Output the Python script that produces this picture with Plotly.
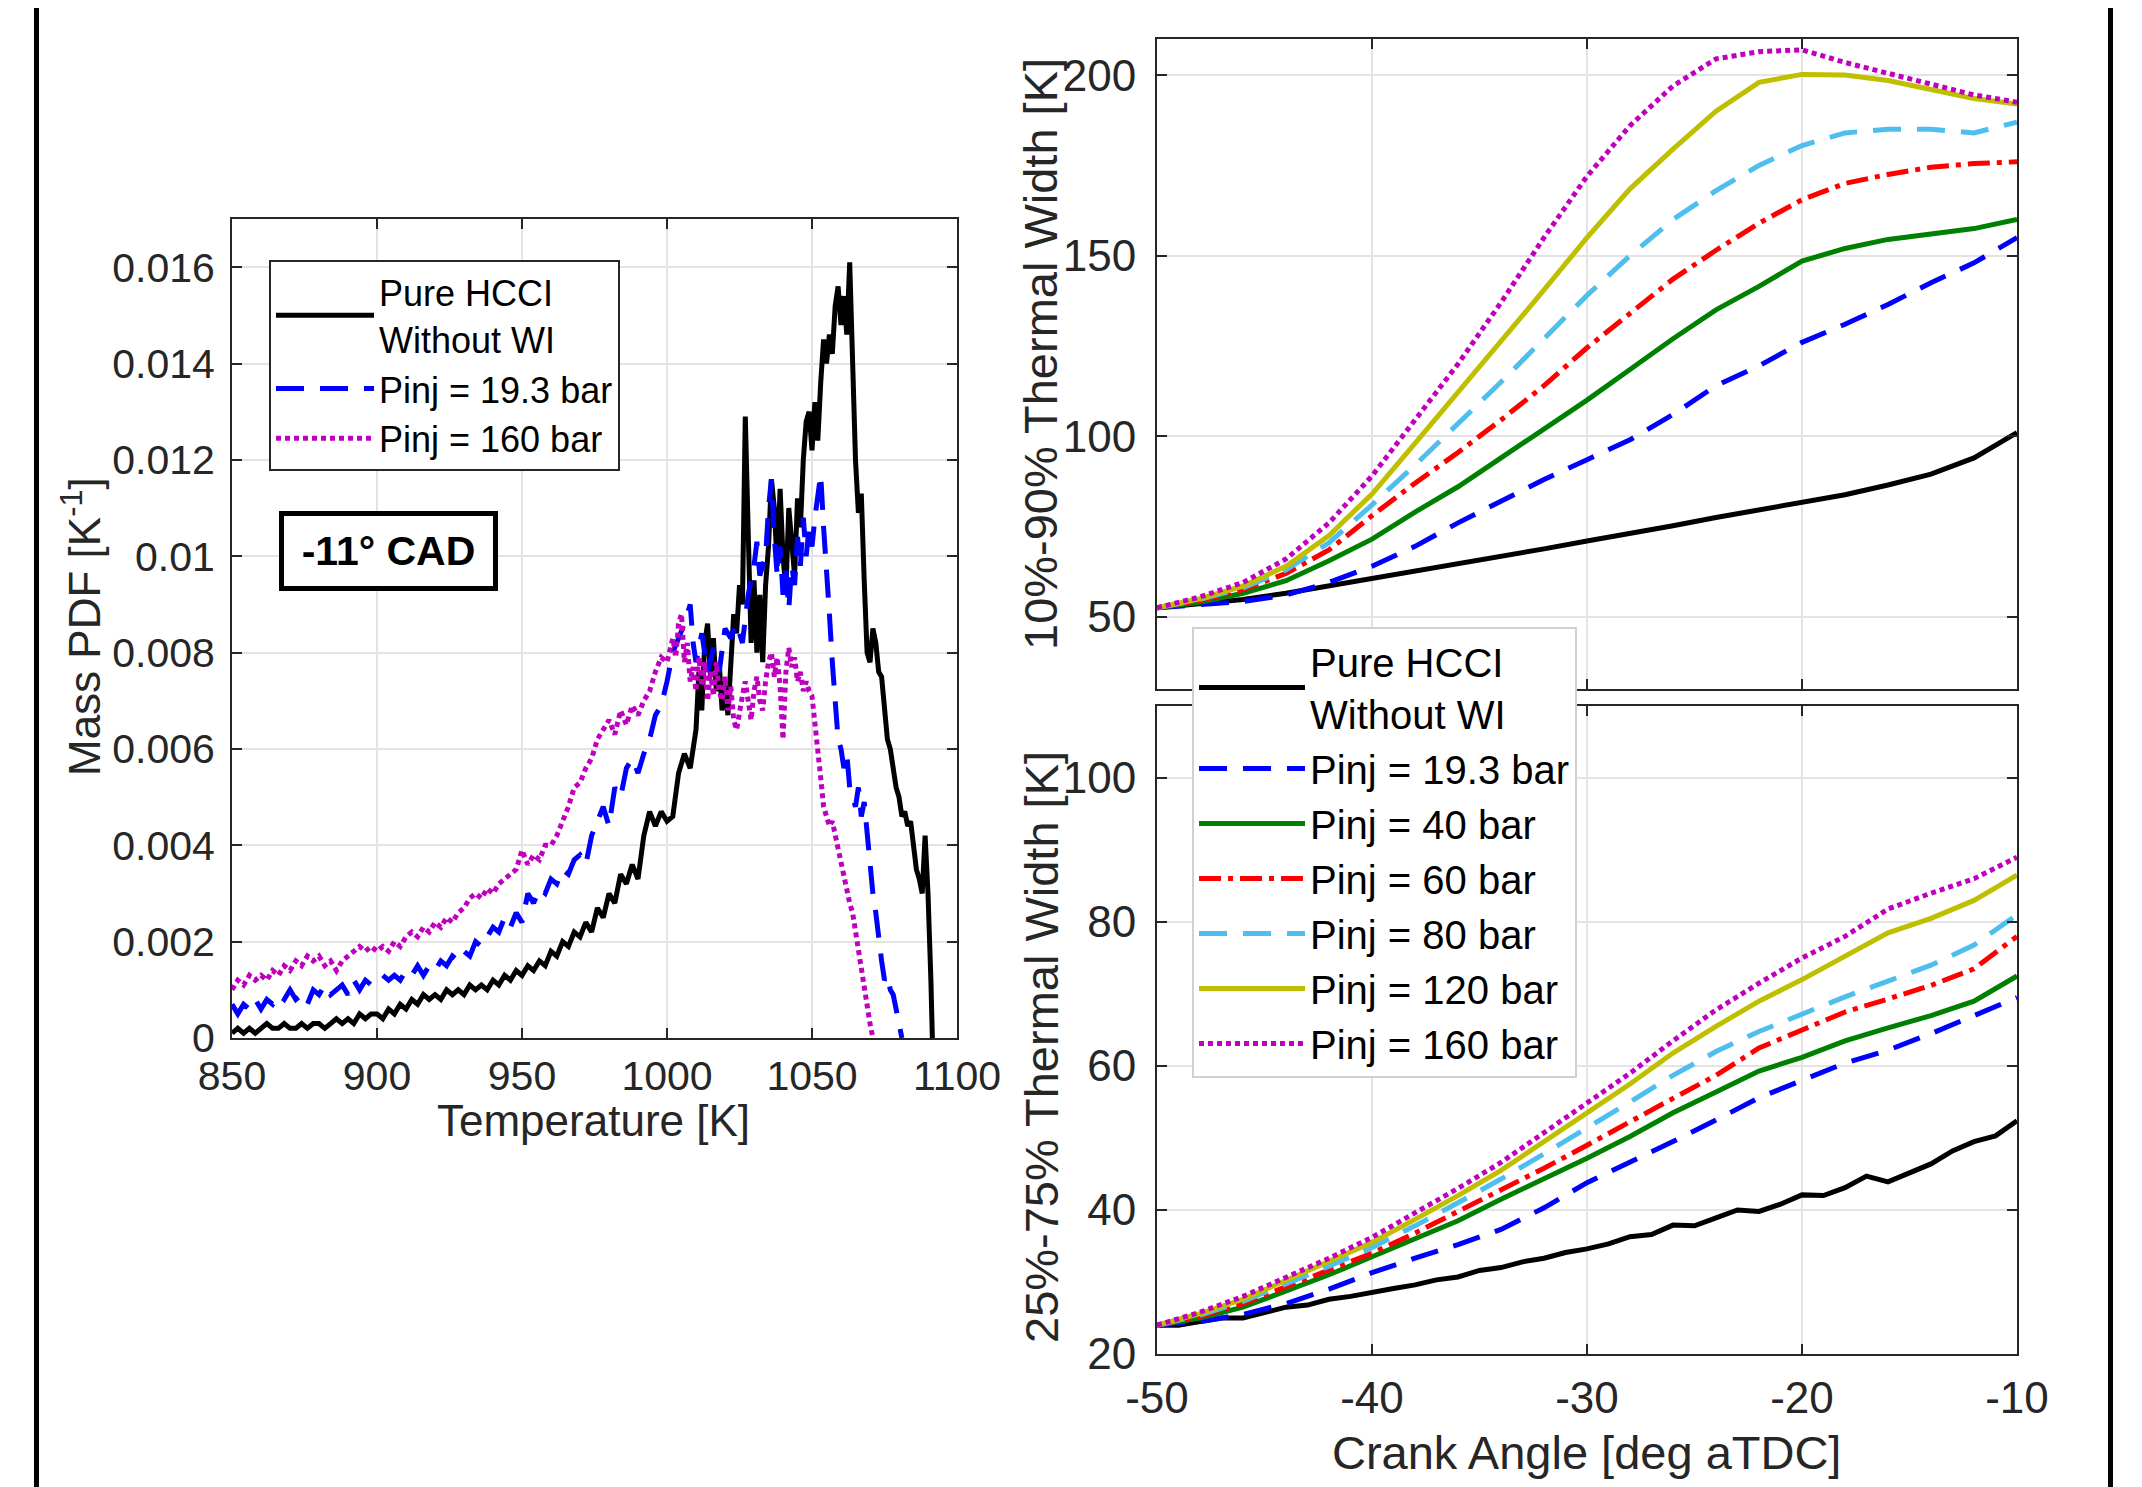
import plotly.graph_objects as go

# ---------------- Left panel: Mass PDF at -11 CAD ----------------
temp_black = [850,852,854,856,858,860,862,864,866,868,870,872,874,876,878,880,882,884,886,888,890,892,894,896,898,
              900,902,904,906,908,910,912,914,916,918,920,922,924,926,928,930,932,934,936,938,940,942,944,946,948,
              950,952,954,956,958,960,962,964,966,968,970,972,974,976,978,980,982,984,986,988,990,992,994,996,998,
              1000,1002,1004,1006,1008,1010,1011,1012,1013,1014,1015,1016,1017,1018,1019,1020,1021,1022,1023,1024,
              1025,1026,1027,1028,1029,1030,1031,1032,1033,1034,1035,1036,1037,1038,1039,1040,1041,1042,1043,1044,
              1045,1046,1047,1048,1049,1050,1051,1052,1053,1054,1055,1056,1057,1058,1059,1060,1061,1062,1063,1064,
              1065,1066,1067,1068,1069,1070,1071,1072,1073,1074,1075,1076,1077,1078,1079,1080,1081,1082,1083,1084,
              1085,1086,1087,1088,1089,1090,1091,1091.5]
pdf_black_e3 = [0.1,0.2,0.1,0.2,0.1,0.2,0.3,0.2,0.2,0.3,0.2,0.2,0.3,0.2,0.3,0.3,0.2,0.3,0.4,0.3,0.4,0.3,0.5,0.4,0.5,
                0.5,0.4,0.6,0.5,0.7,0.6,0.8,0.7,0.9,0.8,0.9,0.8,1.0,0.9,1.0,0.9,1.1,1.0,1.1,1.0,1.2,1.1,1.3,1.2,1.4,
                1.3,1.5,1.4,1.6,1.5,1.8,1.7,2.0,1.9,2.2,2.1,2.4,2.2,2.7,2.5,3.0,2.8,3.4,3.2,3.6,3.3,4.2,4.7,4.4,4.7,
                4.5,4.6,5.5,5.9,5.6,6.4,7.6,6.8,8.2,8.6,7.5,8.3,7.2,7.8,6.8,7.4,6.7,8.0,8.8,8.4,
                9.4,9.0,12.9,10.5,8.2,9.5,8.0,9.2,7.8,9.4,10.2,11.6,11.0,9.8,11.4,10.0,9.3,11.0,10.2,9.6,
                11.2,10.6,12.0,12.8,13.0,12.2,13.2,12.4,13.6,14.5,14.0,14.6,14.2,15.2,15.6,14.8,15.4,14.6,16.1,14.0,
                12.0,10.9,11.3,9.5,8.0,7.8,8.5,8.2,7.6,7.5,6.8,6.2,6.0,5.5,5.2,5.0,4.6,4.7,4.4,4.5,
                4.0,3.5,3.3,3.0,4.2,3.0,1.2,0.0]

temp_blue = [850,852,854,856,858,860,862,864,866,868,870,872,874,876,878,880,882,884,886,888,890,892,894,896,898,
             900,902,904,906,908,910,912,914,916,918,920,922,924,926,928,930,932,934,936,938,940,942,944,946,948,
             950,952,954,956,958,960,962,964,966,968,970,972,974,976,978,980,982,984,986,988,990,992,994,996,998,
             1000,1002,1004,1006,1008,1009,1010,1012,1014,1016,1018,1020,1022,1024,1026,1028,1030,1031,1032,1034,
             1035,1036,1037,1038,1039,1040,1041,1042,1043,1044,1045,1046,1047,1048,1049,1050,1051,1052,1053,1054,
             1055,1056,1057,1058,1059,1060,1061,1062,1063,1064,1065,1066,1067,1068,1069,1070,1071,1072,1073,1074,
             1075,1076,1077,1078,1079,1080,1081]
pdf_blue_e3 = [0.7,0.5,0.7,0.6,0.8,0.6,0.8,0.7,0.9,0.8,1.0,0.8,0.9,0.7,1.0,0.9,1.1,0.9,1.0,1.1,0.9,1.2,1.0,1.2,1.1,
               1.2,1.3,1.2,1.3,1.2,1.4,1.3,1.5,1.3,1.5,1.4,1.6,1.5,1.7,1.6,1.8,1.7,2.0,1.9,2.1,2.3,2.2,2.5,2.3,2.6,
               2.4,3.0,2.8,3.1,3.0,3.3,3.2,3.5,3.4,3.7,3.8,3.6,4.2,4.5,4.8,4.4,5.2,5.0,5.6,5.8,5.5,5.9,6.2,6.7,6.9,
               7.4,8.0,8.3,8.6,9.0,8.2,7.8,8.4,7.6,8.1,7.6,8.5,8.3,8.6,8.2,9.2,9.8,10.3,9.6,10.0,
               11.0,11.6,10.4,9.6,10.2,9.2,9.7,8.9,9.8,9.4,10.4,9.8,10.8,10.0,10.6,10.2,10.8,11.2,11.7,10.6,
               9.8,8.8,7.8,7.0,6.2,6.0,5.6,5.9,5.2,5.0,4.8,5.2,4.6,4.9,4.2,3.6,3.0,2.6,2.0,1.6,
               1.2,1.3,1.0,0.9,0.6,0.3,0.0]

temp_mag = [850,852,854,856,858,860,862,864,866,868,870,872,874,876,878,880,882,884,886,888,890,892,894,896,898,
            900,902,904,906,908,910,912,914,916,918,920,922,924,926,928,930,932,934,936,938,940,942,944,946,948,
            950,952,954,956,958,960,962,964,966,968,970,972,974,976,978,980,982,984,986,988,990,992,994,996,998,
            1000,1002,1003,1004,1005,1006,1007,1008,1009,1010,1011,1012,1013,1014,1015,1016,1017,1018,1019,1020,
            1021,1022,1023,1024,1025,1026,1027,1028,1029,1030,1031,1032,1033,1034,1035,1036,1037,1038,1039,1040,
            1041,1042,1043,1044,1045,1046,1047,1048,1049,1050,1051,1052,1053,1054,1055,1056,1057,1058,1059,1060,
            1061,1062,1063,1064,1065,1066,1067,1068,1069,1070,1071]
pdf_mag_e3 = [1.0,1.2,1.1,1.3,1.2,1.3,1.2,1.4,1.3,1.5,1.4,1.6,1.5,1.7,1.6,1.7,1.5,1.6,1.4,1.6,1.7,1.8,1.9,1.8,1.9,
              1.8,1.9,1.8,2.0,1.9,2.1,2.2,2.1,2.3,2.2,2.4,2.3,2.5,2.4,2.6,2.7,2.9,3.0,2.9,3.1,3.0,3.2,3.3,3.4,3.5,
              3.9,3.6,3.8,3.7,4.0,4.0,4.2,4.5,4.8,5.2,5.3,5.6,5.8,6.2,6.4,6.6,6.3,6.8,6.5,6.9,6.7,7.0,7.2,7.6,7.9,
              7.8,8.3,7.9,8.6,8.8,7.8,8.2,7.4,7.7,7.2,7.9,7.3,7.8,7.0,7.6,7.1,7.8,7.2,7.0,7.5,
              6.8,7.3,6.6,6.4,6.8,7.1,7.4,7.0,6.6,7.2,7.5,7.0,6.8,7.4,7.8,8.0,7.5,7.9,7.3,6.2,
              7.6,8.1,7.7,7.9,7.4,7.6,7.2,7.4,7.2,7.1,6.6,6.0,5.4,4.8,4.6,4.4,4.5,4.2,4.0,3.6,
              3.3,3.0,2.8,2.6,2.2,1.8,1.4,1.0,0.6,0.3,0.0]

left_xticks = [850, 900, 950, 1000, 1050, 1100]
left_yticks = [0, 0.002, 0.004, 0.006, 0.008, 0.01, 0.012, 0.014, 0.016]
left_yticklabels = ["0", "0.002", "0.004", "0.006", "0.008", "0.01", "0.012", "0.014", "0.016"]

# ---------------- Right panels: thermal widths vs crank angle ----------------
crank = [-50, -48, -46, -44, -42, -40, -38, -36, -34, -32, -30, -28, -26, -24, -22, -20, -18, -16, -14, -12, -10]

w1090_hcci = [52.5,53.5,54.8,56.5,58.5,60.5,62.5,64.5,66.5,68.8,71,73,75.2,77.5,79.7,81.8,83.8,86.5,89.5,94,101]
w1090_p19  = [52.5,53.2,54.2,56,59.5,64,69.5,76,82,88,93.5,99,106,114,119.5,126,131,136.5,142.5,148,155]
w1090_p40  = [52.5,54,56.5,60,65.5,71.5,79,86,94,102,110,118.5,127,135,141.5,148.5,152,154.5,156,157.5,160]
w1090_p60  = [52.5,54.5,57.5,62,68.5,78,87,95.5,104.5,114,124.5,134,143.5,151.5,159,165.5,170,172.5,174.5,175.5,176]
w1090_p80  = [52.5,54.8,58,63,70.5,81,92,103.5,115,127,139,150,160,168,175,180.5,184,185,185,184,187]
w1090_p120 = [52.5,55,58.5,64,72.5,84,98,112,126,140.5,155,168.5,179.5,190,198,200.2,200,198.5,196,193.5,192]
w1090_p160 = [52.5,55.5,59.5,66,76,89,104.5,120,137,155,172,186,197,204.5,206.5,207,203.5,200.5,197.5,194.5,192.5]

crank_fine = [-50,-49,-48,-47,-46,-45,-44,-43,-42,-41,-40,-39,-38,-37,-36,-35,-34,-33,-32,-31,-30,
              -29,-28,-27,-26,-25,-24,-23,-22,-21,-20,-19,-18,-17,-16,-15,-14,-13,-12,-11,-10]
w2575_hcci = [24,24,24.5,25,25,25.8,26.5,26.8,27.6,28,28.6,29.1,29.6,30.3,30.7,31.6,32,32.8,33.3,34.1,34.6,
              35.3,36.3,36.6,37.9,37.8,38.9,40,39.8,40.8,42.1,42,43.1,44.7,43.9,45.2,46.4,48.2,49.5,50.3,52.4]
w2575_p19  = [24,24.5,25.5,27,29,31.3,33.3,35.2,37.3,40.3,43.8,46.6,49.5,52.5,55.6,58,60.4,62.2,64.5,67,69.5]
w2575_p40  = [24,25,26.5,28.7,31,33.5,36,38.5,41.5,44.3,47.2,50.2,53.5,56.4,59.3,61.2,63.5,65.3,67,69,72.5]
w2575_p60  = [24,25.2,27,29.3,31.6,34,36.8,39.8,42.8,45.8,49,52.3,55.5,58.7,62.5,65,67.5,69.3,71.2,73.5,78]
w2575_p80  = [24,25.4,27.3,29.7,32.2,34.8,37.8,41,44.3,47.8,51.3,55,58.7,62,64.8,67.2,69.6,71.8,74,76.8,81]
w2575_p120 = [24,25.6,27.6,30.2,32.8,35.5,38.7,42,45.5,49.4,53.5,57.5,61.8,65.5,69,72,75.2,78.5,80.5,83,86.5]
w2575_p160 = [24,25.8,28,30.6,33.3,36.2,39.6,43,46.6,50.8,55,59,63.5,67.8,71.5,75,78,81.8,84,86,89]

right_xticks = [-50, -40, -30, -20, -10]
right_xticklabels = ["-50", "-40", "-30", "-20", "-10"]
top_yticks = [50, 100, 150, 200]
bot_yticks = [20, 40, 60, 80, 100]

legend_names = ["Pure HCCI<br>Without WI", "Pinj = 19.3 bar", "Pinj = 40 bar", "Pinj = 60 bar",
                "Pinj = 80 bar", "Pinj = 120 bar", "Pinj = 160 bar"]

# ---------------- styles ----------------
FONT = "Liberation Sans, Arial, Helvetica, sans-serif"
AX = "#262626"
GRID = "#e3e3e3"
LW = 5
styles = [
    dict(color="#000000", width=LW, dash="solid"),
    dict(color="#0000ff", width=LW, dash="28px,16px"),
    dict(color="#008000", width=LW, dash="solid"),
    dict(color="#ff0000", width=LW, dash="22px,7px,5px,7px"),
    dict(color="#4dbeee", width=LW, dash="28px,16px"),
    dict(color="#bfbf00", width=LW, dash="solid"),
    dict(color="#bf00bf", width=LW, dash="5px,4px"),
]

fig = go.Figure()

left_sets = [(temp_black, pdf_black_e3, 0), (temp_blue, pdf_blue_e3, 1), (temp_mag, pdf_mag_e3, 6)]
for t, v, k in left_sets:
    fig.add_trace(go.Scatter(x=t, y=[p * 1e-3 for p in v], mode="lines", line=styles[k],
                             name=legend_names[k], legend="legend", xaxis="x", yaxis="y"))

top_series = [w1090_hcci, w1090_p19, w1090_p40, w1090_p60, w1090_p80, w1090_p120, w1090_p160]
bot_series = [w2575_hcci, w2575_p19, w2575_p40, w2575_p60, w2575_p80, w2575_p120, w2575_p160]
for k, s in enumerate(top_series):
    fig.add_trace(go.Scatter(x=crank, y=s, mode="lines", line=styles[k], name=legend_names[k],
                             legend="legend2", xaxis="x2", yaxis="y2"))
for k, s in enumerate(bot_series):
    xs = crank_fine if len(s) == len(crank_fine) else crank
    fig.add_trace(go.Scatter(x=xs, y=s, mode="lines", line=styles[k], name=legend_names[k],
                             showlegend=False, xaxis="x3", yaxis="y3"))

# the page body has an 8px margin; the figure is sized to fit inside the window
OFF = 8
W, H = 2142 - OFF, 1487 - OFF
def fx(p):
    return (p - OFF) / W
def fy(p):
    return 1 - (p - OFF) / H
def px_x(a, b):
    return [fx(a), fx(b)]
def px_y(top, bottom):
    return [fy(bottom), fy(top)]

common = dict(showline=True, linecolor=AX, linewidth=2, mirror="ticks", ticks="inside", ticklen=10,
              tickwidth=2, tickcolor=AX, showgrid=True, gridcolor=GRID, gridwidth=1.5, zeroline=False,
              automargin=False)

def axis_title(text, x, y, size, angle=0):
    return dict(text=text, x=fx(x), y=fy(y), xref="paper", yref="paper", showarrow=False,
                xanchor="center", yanchor="middle", textangle=angle,
                font=dict(size=size, color=AX, family=FONT))

fig.update_layout(
    width=W, height=H, margin=dict(l=0, r=0, t=0, b=0, autoexpand=False),
    paper_bgcolor="white", plot_bgcolor="white",
    font=dict(family=FONT, color=AX),
    xaxis=dict(domain=px_x(232, 957), range=[850, 1100], tickvals=left_xticks, anchor="y",
               tickfont=dict(size=41, color=AX), ticklabelstandoff=1, **common),
    yaxis=dict(domain=px_y(219, 1038), range=[0, 0.017], tickvals=left_yticks, ticktext=left_yticklabels,
               anchor="x", tickfont=dict(size=41, color=AX), ticklabelstandoff=7, **common),
    xaxis2=dict(domain=px_x(1157, 2017), range=[-50, -10], tickvals=right_xticks, showticklabels=False,
                anchor="y2", **common),
    yaxis2=dict(domain=px_y(39, 689), range=[30, 210], tickvals=top_yticks, anchor="x2",
                tickfont=dict(size=44, color=AX), ticklabelstandoff=10, **common),
    xaxis3=dict(domain=px_x(1157, 2017), range=[-50, -10], tickvals=right_xticks, ticktext=right_xticklabels,
                anchor="y3", tickfont=dict(size=44, color=AX), ticklabelstandoff=4, **common),
    yaxis3=dict(domain=px_y(706, 1354), range=[20, 110], tickvals=bot_yticks, anchor="x3",
                tickfont=dict(size=44, color=AX), ticklabelstandoff=10, **common),
    legend=dict(x=fx(269), y=fy(260), xanchor="left", yanchor="top", bgcolor="white",
                bordercolor=AX, borderwidth=2, font=dict(size=36, color="black", family=FONT),
                itemwidth=98, tracegroupgap=0),
    legend2=dict(x=fx(1192), y=fy(627), xanchor="left", yanchor="top", bgcolor="white",
                 bordercolor="#d0d0d0", borderwidth=2, font=dict(size=40, color="black", family=FONT),
                 itemwidth=106, tracegroupgap=0),
    annotations=[
        dict(text="<b>-11° CAD</b>", x=904, y=0.0101, xref="x", yref="y", showarrow=False,
             font=dict(size=41, color="black", family=FONT), bgcolor="white",
             bordercolor="black", borderwidth=5, borderpad=6, width=197, height=58),
        axis_title("Temperature [K]", 593, 1120, 44),
        axis_title("Mass PDF [K<sup>-1</sup>]", 82, 627, 44, -90),
        axis_title("10%-90% Thermal Width [K]", 1041, 354, 47, -90),
        axis_title("25%-75% Thermal Width [K]", 1041, 1047, 47, -90),
        axis_title("Crank Angle [deg aTDC]", 1586, 1452, 47),
    ],
    shapes=[dict(type="line", xref="paper", yref="paper", x0=fx(36.5), x1=fx(36.5), y0=0, y1=1,
                 line=dict(color="black", width=5)),
            dict(type="line", xref="paper", yref="paper", x0=fx(2110.5), x1=fx(2110.5), y0=0, y1=1,
                 line=dict(color="black", width=5))],
)

fig.write_html("out.html")
